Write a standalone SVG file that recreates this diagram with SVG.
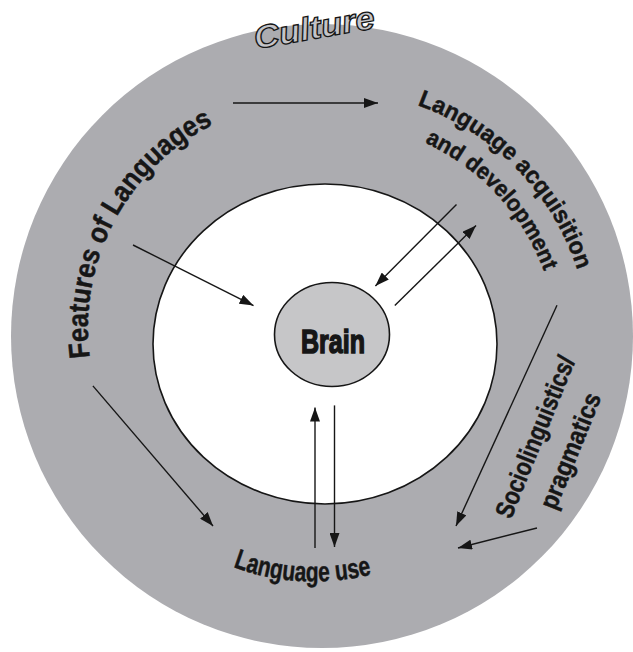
<svg xmlns="http://www.w3.org/2000/svg" xmlns:xlink="http://www.w3.org/1999/xlink" width="633" height="652" viewBox="0 0 633 652">
<style>
.lbl{font-family:"Liberation Sans",Arial,sans-serif;font-weight:bold;fill:#161616;stroke:#161616;stroke-width:0.45;}
.conn line{stroke:#161616;stroke-width:1.4;marker-end:url(#ah);}
</style>
<defs>
<marker id="ah" markerUnits="userSpaceOnUse" markerWidth="14" markerHeight="10" refX="14" refY="5" orient="auto">
<path d="M0,0 L14,5 L0,10 z" fill="#161616"/>
</marker>
<path id="pFeat" d="M 89.9 357.4 A 228 228 0 0 1 238 113.7"/>
<path id="pAcq" d="M 417.2 105.1 A 260 260 0 0 1 586 304.9"/>
<path id="pDev" d="M 424.7 142.7 A 228 228 0 0 1 554.5 310.4"/>
<path id="pUse" d="M 233 567 Q 300 592 374 574"/>
</defs>
<rect width="633" height="652" fill="#ffffff"/>
<g id="culture">
<ellipse cx="322" cy="336" rx="311" ry="312" fill="#acacb0"/>
<text x="256" y="49" transform="rotate(-10 256 49)" font-family="Liberation Sans,Arial,sans-serif" font-weight="bold" font-style="italic" font-size="32" textLength="122" lengthAdjust="spacingAndGlyphs" fill="#c4c4c8" stroke="#161616" stroke-width="1.3">Culture</text>
</g>
<g id="inner">
<ellipse cx="325" cy="344" rx="172" ry="160" fill="#ffffff" stroke="#161616" stroke-width="1.6"/>
</g>
<g id="brain">
<ellipse cx="332" cy="334.5" rx="57.5" ry="52" fill="#c6c6c8" stroke="#161616" stroke-width="1.6"/>
<text class="lbl" x="301" y="352.5" font-size="33" textLength="64" lengthAdjust="spacingAndGlyphs" style="stroke-width:1.5">Brain</text>
</g>
<g id="features">
<text class="lbl" font-size="29"><textPath xlink:href="#pFeat" href="#pFeat" textLength="281" lengthAdjust="spacingAndGlyphs">Features of Languages</textPath></text>
</g>
<g id="acquisition">
<text class="lbl" font-size="24"><textPath xlink:href="#pAcq" href="#pAcq" textLength="238" lengthAdjust="spacingAndGlyphs">Language acquisition</textPath></text>
<text class="lbl" font-size="23"><textPath xlink:href="#pDev" href="#pDev" textLength="180" lengthAdjust="spacingAndGlyphs">and development</textPath></text>
</g>
<g id="socio" transform="translate(511 520) rotate(-68)">
<text class="lbl" x="0" y="0" font-size="26" textLength="172" lengthAdjust="spacingAndGlyphs">Sociolinguistics/</text>
<text class="lbl" x="25" y="38" font-size="26" textLength="123" lengthAdjust="spacingAndGlyphs">pragmatics</text>
</g>
<g id="use">
<text class="lbl" font-size="28"><textPath xlink:href="#pUse" href="#pUse" textLength="141" lengthAdjust="spacingAndGlyphs">Language use</textPath></text>
</g>
<g id="connectors" class="conn">
<line x1="233" y1="103" x2="378" y2="103"/>
<line x1="133" y1="245" x2="253.5" y2="305.6"/>
<line x1="456.5" y1="204.5" x2="375.4" y2="286"/>
<line x1="394.8" y1="305.6" x2="476" y2="225.5"/>
<line x1="334.5" y1="405.4" x2="334.5" y2="547"/>
<line x1="315" y1="548" x2="315" y2="407.5"/>
<line x1="92.9" y1="385.9" x2="213" y2="526"/>
<line x1="557" y1="305.3" x2="456" y2="526"/>
<line x1="537" y1="528" x2="458" y2="548"/>
</g>
</svg>
